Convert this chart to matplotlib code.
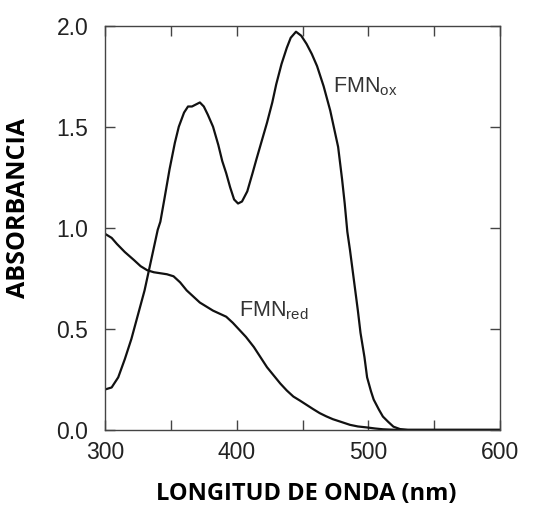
import matplotlib.pyplot as plt

# espectro FMN oxidado
ox_nm = [300, 305, 310, 315, 320, 325, 330, 335, 340, 342, 345, 349, 353, 356, 360, 363,
         366, 369, 372, 375, 378, 382, 386, 389, 392, 395, 398, 401, 404, 408, 412, 415,
         419, 423, 427, 430, 434, 438, 441, 445, 449, 453, 457, 461, 466, 471, 474, 477,
         480, 482, 484, 486, 489, 492, 494, 497, 499, 502, 504, 508, 511, 515, 519, 524,
         530, 550, 600]
ox_abs = [0.20, 0.21, 0.26, 0.35, 0.45, 0.57, 0.69, 0.84, 0.99, 1.03, 1.14, 1.29, 1.42, 1.50, 1.57, 1.60,
          1.60, 1.61, 1.62, 1.60, 1.56, 1.50, 1.41, 1.33, 1.27, 1.20, 1.14, 1.12, 1.13, 1.18, 1.27, 1.34,
          1.43, 1.52, 1.62, 1.71, 1.81, 1.89, 1.94, 1.97, 1.95, 1.91, 1.86, 1.80, 1.70, 1.58, 1.49, 1.40,
          1.24, 1.12, 0.98, 0.89, 0.74, 0.59, 0.48, 0.36, 0.26, 0.19, 0.15, 0.10, 0.066, 0.04, 0.016, 0.004,
          0.0, 0.0, 0.0]

# espectro FMN reducido
red_nm = [300, 305, 309, 315, 322, 327, 332, 337, 342, 347, 352, 357, 362, 367, 372, 377,
          382, 387, 392, 397, 402, 407, 413, 418, 423, 428, 433, 438, 443, 448, 453, 458,
          463, 468, 473, 480, 486, 492, 499, 505, 511, 518, 524, 550, 600]
red_abs = [0.97, 0.95, 0.92, 0.88, 0.84, 0.81, 0.79, 0.78, 0.775, 0.77, 0.76, 0.73, 0.69, 0.66, 0.63, 0.61,
           0.59, 0.575, 0.56, 0.53, 0.495, 0.46, 0.41, 0.36, 0.31, 0.27, 0.23, 0.195, 0.165, 0.145, 0.124, 0.103,
           0.083, 0.067, 0.053, 0.038, 0.025, 0.017, 0.012, 0.007, 0.003, 0.001, 0.0, 0.0, 0.0]

x_ticks = [300, 400, 500, 600]
y_ticks = [0.0, 0.5, 1.0, 1.5, 2.0]

fig = plt.figure(figsize=(5.36, 5.13), dpi=100)
ax = fig.add_axes([0.196, 0.162, 0.737, 0.788])

ax.plot(ox_nm, ox_abs, color='#111111', lw=1.6)
ax.plot(red_nm, red_abs, color='#111111', lw=1.6)

ax.set_xlim(300, 600)
ax.set_ylim(0, 2.0)
ax.set_xticks(x_ticks)
ax.set_xticks([350, 450, 550], minor=True)
ax.set_yticks(y_ticks)
ax.set_yticklabels(['%.1f' % v for v in y_ticks])

for lab in ax.get_xticklabels() + ax.get_yticklabels():
    lab.set_fontfamily('Liberation Sans')
    lab.set_fontsize(16.5)
    lab.set_color('#222222')

ax.tick_params(which='both', direction='in', top=True, right=True, length=7, width=1.0, color='#444444')
ax.tick_params(axis='x', pad=8)
ax.tick_params(axis='y', pad=12)
for s in ax.spines.values():
    s.set_linewidth(1.0)
    s.set_color('#444444')

ax.text(473, 1.67, 'FMN$_\\mathregular{ox}$', fontsize=15.5, family='Liberation Sans', color='#333333')
ax.text(402, 0.56, 'FMN$_\\mathregular{red}$', fontsize=15.5, family='Liberation Sans', color='#333333')

ax.set_xlabel('LONGITUD DE ONDA (nm)', fontsize=17, fontweight='bold', family='Open Sans')
ax.set_ylabel('ABSORBANCIA', fontsize=18, fontweight='bold', family='Open Sans')
ax.xaxis.set_label_coords(0.51, -0.128)
ax.yaxis.set_label_coords(-0.187, 0.55)

plt.savefig('out.png')
